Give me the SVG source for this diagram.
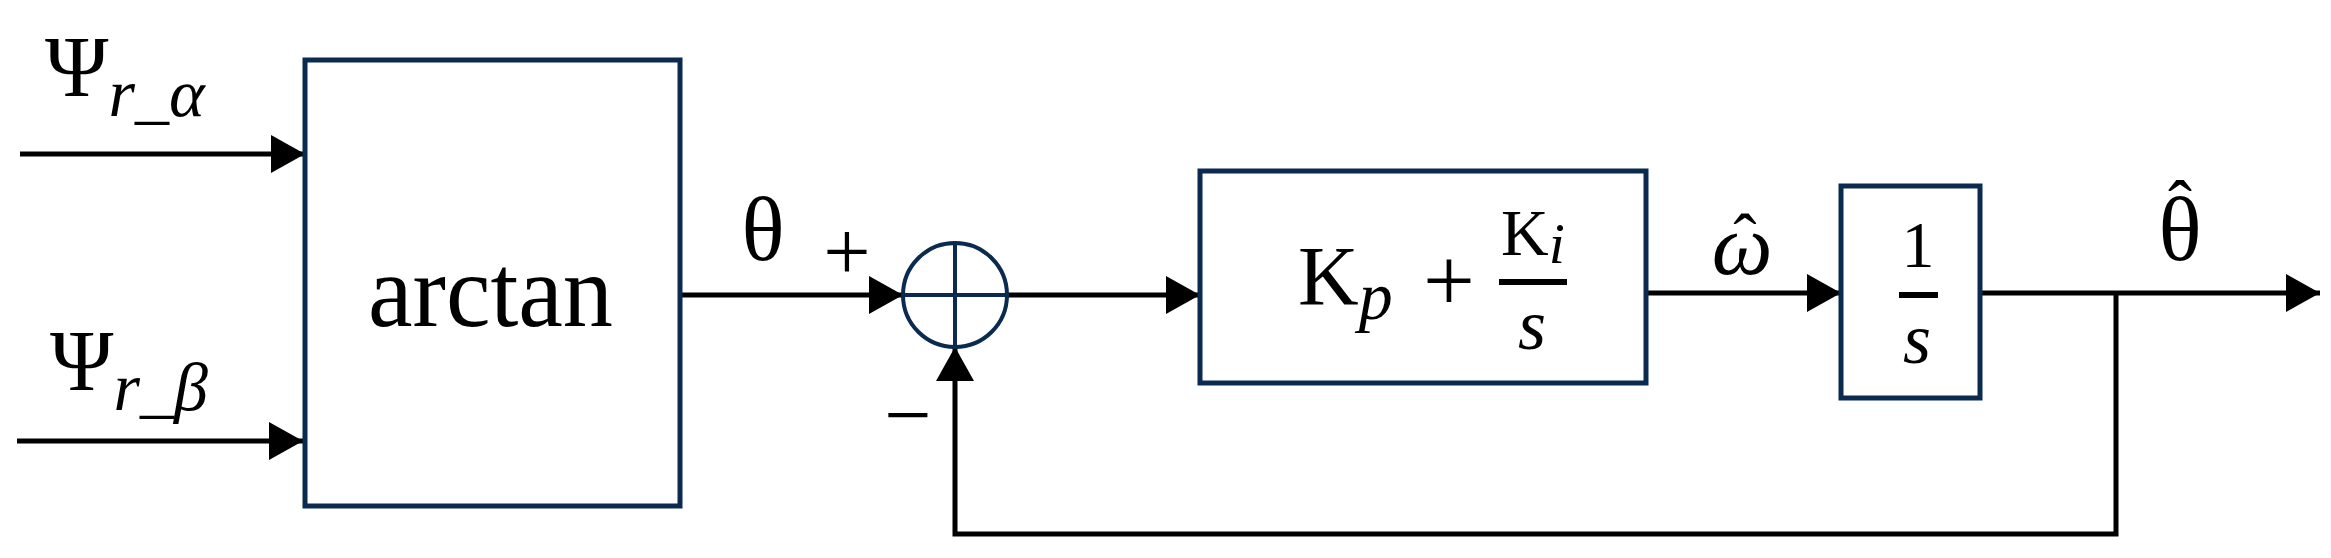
<svg xmlns="http://www.w3.org/2000/svg" width="2331" height="558" viewBox="0 0 2331 558">
<style>
.box{fill:#fff;stroke:#0b2a4f;stroke-width:5}
.ln{stroke:#000;stroke-width:5;fill:none}
.t{font-family:"Liberation Serif",serif;fill:#000}
.i{font-style:italic}
</style>
<defs>
<marker id="a" viewBox="0 0 34 38" refX="34" refY="19" markerWidth="34" markerHeight="38" orient="auto" markerUnits="userSpaceOnUse"><path d="M0,0 L34,19 L0,38 Z" fill="#000"/></marker>
</defs>
<g id="connectors">
<line class="ln" x1="20" y1="154" x2="305" y2="154" marker-end="url(#a)"/>
<line class="ln" x1="17" y1="441" x2="303" y2="441" marker-end="url(#a)"/>
<line class="ln" x1="680" y1="295" x2="903" y2="295" marker-end="url(#a)"/>
<line class="ln" x1="1007" y1="295" x2="1200" y2="295" marker-end="url(#a)"/>
<line class="ln" x1="1646" y1="293" x2="1841" y2="293" marker-end="url(#a)"/>
<line class="ln" x1="1980" y1="293" x2="2320" y2="293" marker-end="url(#a)"/>
<polyline class="ln" points="2116,293 2116,534 955,534 955,347" marker-end="url(#a)"/>
</g>
<g id="in-alpha"><text class="t" x="45" y="96" font-size="86">Ψ<tspan class="i" font-size="68" dy="20">r_α</tspan></text></g>
<g id="in-beta"><text class="t" x="50" y="390" font-size="86">Ψ<tspan class="i" font-size="68" dy="20">r_β</tspan></text></g>
<g id="arctan"><rect class="box" x="305" y="60" width="375" height="446"/><text class="t" x="368" y="326" font-size="104" textLength="245" lengthAdjust="spacingAndGlyphs">arctan</text></g>
<g id="theta-label"><text class="t" x="763" y="260" font-size="90" text-anchor="middle">θ</text><text class="t" x="847" y="280" font-size="84" text-anchor="middle">+</text><text class="t" x="908" y="443" font-size="84" text-anchor="middle">−</text></g>
<g id="sum"><circle cx="955" cy="295" r="52" fill="#fff" stroke="#0b2a4f" stroke-width="4"/><line x1="903" y1="295" x2="1007" y2="295" stroke="#0b2a4f" stroke-width="4"/><line x1="955" y1="243" x2="955" y2="347" stroke="#0b2a4f" stroke-width="4"/></g>
<g id="pi"><rect class="box" x="1200" y="171" width="446" height="212"/>
<text class="t" x="1298" y="305" font-size="84">K<tspan class="i" font-size="68" dy="14">p</tspan></text>
<text class="t" x="1449" y="311" font-size="92" text-anchor="middle">+</text>
<line x1="1499" y1="282" x2="1567" y2="282" stroke="#000" stroke-width="6"/>
<text class="t" x="1501" y="255" font-size="66">K<tspan class="i" font-size="58" dy="8">i</tspan></text>
<text class="t i" x="1532" y="349" font-size="72" text-anchor="middle">s</text></g>
<g id="omega"><text class="t i" x="1742" y="274" font-size="86" text-anchor="middle">ω</text><text class="t" x="1745" y="262" font-size="70" text-anchor="middle">ˆ</text></g>
<g id="integ"><rect class="box" x="1841" y="186" width="139" height="212"/>
<text class="t" x="1918" y="267" font-size="66" text-anchor="middle">1</text>
<line x1="1899" y1="295" x2="1938" y2="295" stroke="#000" stroke-width="6"/>
<text class="t i" x="1917" y="363" font-size="72" text-anchor="middle">s</text></g>
<g id="theta-hat"><text class="t" x="2180" y="260" font-size="90" text-anchor="middle">θ</text><text class="t" x="2180" y="230" font-size="72" text-anchor="middle">ˆ</text></g>
</svg>
